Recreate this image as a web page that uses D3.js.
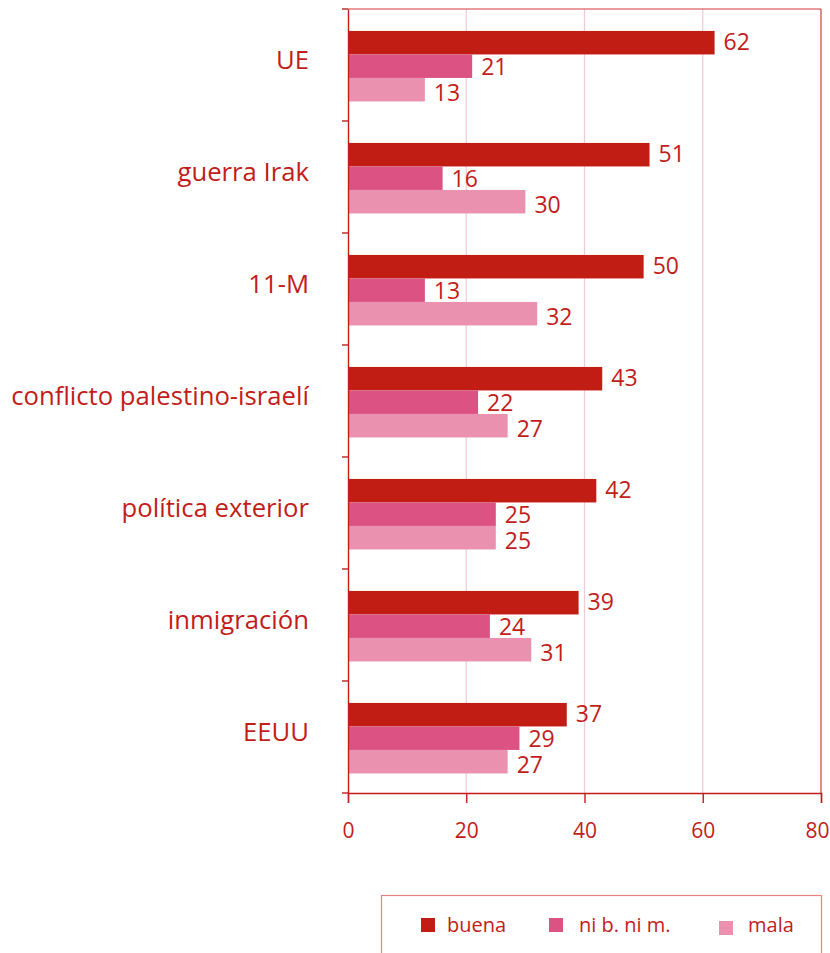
<!DOCTYPE html>
<html>
<head>
<meta charset="utf-8">
<script src="https://cdn.jsdelivr.net/npm/d3@7"></script>
<style>
  html, body { margin: 0; padding: 0; background: #fff; }
  svg { display: block; }
  text { font-family: "Open Sans", "Noto Sans", sans-serif; fill: #c11d1a; }
</style>
</head>
<body>
<svg id="chart" width="830" height="953"></svg>
<script>
// Opinion by topic: share of "buena", "ni b. ni m." and "mala" answers
const categories = ["UE", "guerra Irak", "11-M", "conflicto palestino-israelí",
                    "política exterior", "inmigración", "EEUU"];
const seriesNames = ["buena", "ni b. ni m.", "mala"];
const buena = [62, 51, 50, 43, 42, 39, 37];
const niBniM = [21, 16, 13, 22, 25, 24, 29];
const mala = [13, 30, 32, 27, 25, 31, 27];
const xTicks = [0, 20, 40, 60, 80];

const colors = ["#c21d14", "#dc5282", "#ea91b0"];
const series = [buena, niBniM, mala];

const svg = d3.select("#chart");
const plotLeft = 348, plotRight = 821, plotTop = 9, plotBottom = 793;

const x = d3.scaleLinear().domain([0, 80]).range([plotLeft, plotRight]);
const y = d3.scaleBand().domain(categories).range([plotTop, plotBottom]).paddingInner(0).paddingOuter(0);
const barH = 23.5;
const groupH = barH * 3;
const labelShift = [-1, 1, 3];

// vertical grid lines
svg.append("g").selectAll("line")
  .data(xTicks.filter(d => d > 0 && d < 80))
  .join("line")
  .attr("x1", d => x(d)).attr("x2", d => x(d))
  .attr("y1", plotTop).attr("y2", plotBottom)
  .attr("stroke", "#f2c9d6").attr("stroke-width", 1.2);

// top and right frame
svg.append("line").attr("x1", plotLeft).attr("x2", plotRight).attr("y1", plotTop).attr("y2", plotTop)
  .attr("stroke", "#d33a3a").attr("stroke-width", 1.2);
svg.append("line").attr("x1", plotRight).attr("x2", plotRight).attr("y1", plotTop).attr("y2", plotBottom)
  .attr("stroke", "#d33a3a").attr("stroke-width", 1.2);

// bars
const groups = svg.append("g").selectAll("g")
  .data(categories)
  .join("g")
  .attr("transform", d => `translate(0,${y(d) + (y.bandwidth() - groupH) / 2 + 1.2})`);

series.forEach((vals, si) => {
  groups.append("rect")
    .attr("x", x(0))
    .attr("y", si * barH)
    .attr("width", (d, i) => x(vals[i]) - x(0))
    .attr("height", barH)
    .attr("fill", colors[si]);
  groups.append("text")
    .attr("x", (d, i) => x(vals[i]) + 9)
    .attr("y", si * barH + barH / 2 + labelShift[si])
    .attr("dy", "0.36em")
    .attr("font-size", 23)
    .text((d, i) => vals[i]);
});

// y axis
const yAxis = svg.append("g").attr("transform", `translate(${plotLeft},0)`)
  .call(d3.axisLeft(y).tickSize(0).tickFormat(""));
yAxis.select(".domain").attr("stroke", "#c11d1a").attr("stroke-width", 1.4);
// boundary ticks between categories
svg.append("g").selectAll("line")
  .data(d3.range(categories.length + 1))
  .join("line")
  .attr("x1", plotLeft - 6).attr("x2", plotLeft)
  .attr("y1", i => plotTop + i * y.step()).attr("y2", i => plotTop + i * y.step())
  .attr("stroke", "#c11d1a").attr("stroke-width", 1.4);

// category labels
svg.append("g").selectAll("text")
  .data(categories)
  .join("text")
  .attr("x", 309)
  .attr("y", d => y(d) + y.bandwidth() / 2 - 5)
  .attr("dy", "0.36em")
  .attr("text-anchor", "end")
  .attr("font-size", 25.7)
  .text(d => d);

// x axis
const xAxis = svg.append("g").attr("transform", `translate(0,${plotBottom})`)
  .call(d3.axisBottom(x).tickValues(xTicks).tickSize(10).tickPadding(20));
xAxis.select(".domain").attr("stroke", "#c11d1a").attr("stroke-width", 1.4);
xAxis.selectAll(".tick line").attr("stroke", "#c11d1a").attr("stroke-width", 1.4);
xAxis.selectAll(".tick text")
  .attr("font-size", 21)
  .attr("font-family", "\"Open Sans\", \"Noto Sans\", sans-serif")
  .attr("fill", "#c11d1a")
  .attr("dx", d => d === 80 ? -4 : 0);

// legend
const legend = svg.append("g");
legend.append("rect")
  .attr("x", 381.5).attr("y", 895.5)
  .attr("width", 440).attr("height", 70)
  .attr("fill", "none").attr("stroke", "#e8837f").attr("stroke-width", 1.2);
const legendX = [421, 549, 719];
const legendSquareY = [918, 918, 921];
seriesNames.forEach((name, i) => {
  legend.append("rect")
    .attr("x", legendX[i]).attr("y", legendSquareY[i])
    .attr("width", 14).attr("height", 14)
    .attr("fill", colors[i]);
  legend.append("text")
    .attr("x", legendX[i] + (i === 1 ? 30 : i === 2 ? 29 : 26))
    .attr("y", 925)
    .attr("dy", "0.36em")
    .attr("font-size", 20)
    .text(name);
});
</script>
</body>
</html>
